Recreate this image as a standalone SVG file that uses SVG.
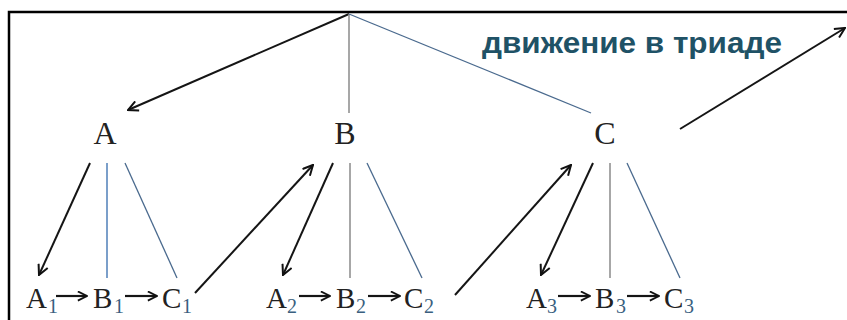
<svg xmlns="http://www.w3.org/2000/svg" width="847" height="320" viewBox="0 0 847 320">
<defs>
<marker id="ah" viewBox="0 0 12 12" refX="11" refY="6" markerWidth="12" markerHeight="12" markerUnits="userSpaceOnUse" orient="auto">
<path d="M1,1 L11,6 L1,11" fill="none" stroke="#111" stroke-width="2"/>
</marker>
<marker id="ahs" viewBox="0 0 12 12" refX="11" refY="6" markerWidth="11" markerHeight="11" markerUnits="userSpaceOnUse" orient="auto">
<path d="M1,1 L11,6 L1,11" fill="none" stroke="#111" stroke-width="2"/>
</marker>
</defs>
<style>
.arr{stroke:#151515;stroke-width:2;fill:none;marker-end:url(#ah)}
.sarr{stroke:#151515;stroke-width:2.2;fill:none;marker-end:url(#ahs)}
.gray{stroke:#8a8a8a;stroke-width:1.5;fill:none}
.blue{stroke:#4a6a8e;stroke-width:1.3;fill:none}
.lblue{stroke:#4f7fb8;stroke-width:1.5;fill:none}
.big{font-family:"Liberation Serif",serif;font-size:32px;fill:#222}
.lab{font-family:"Liberation Serif",serif;font-size:29px;fill:#222}
.sub{font-family:"Liberation Serif",serif;font-size:20px;fill:#3a5f80}
.title{font-family:"Liberation Sans",Arial,sans-serif;font-weight:bold;font-size:29px;fill:#1f5266}
</style>
<rect width="847" height="320" fill="#fff"/>
<path d="M9,320 V12 H847" fill="none" stroke="#000" stroke-width="2.5"/>
<g id="connectors">
<line class="arr" x1="349" y1="14" x2="128" y2="110"/>
<line class="gray" x1="349" y1="14" x2="349" y2="113"/>
<line class="blue" x1="349" y1="14" x2="591" y2="113"/>
<line class="arr" x1="680" y1="129" x2="845" y2="28"/>
<line class="arr" x1="90" y1="163" x2="39" y2="275"/>
<line class="lblue" x1="107" y1="163" x2="107" y2="278"/>
<line class="blue" x1="125" y1="163" x2="177" y2="278"/>
<line class="arr" x1="195" y1="293" x2="313" y2="165"/>
<line class="arr" x1="333" y1="163" x2="283" y2="275"/>
<line class="gray" x1="350" y1="163" x2="350" y2="278"/>
<line class="blue" x1="367" y1="163" x2="422" y2="278"/>
<line class="arr" x1="455" y1="295" x2="571" y2="165"/>
<line class="arr" x1="593" y1="163" x2="541" y2="275"/>
<line class="gray" x1="610" y1="163" x2="610" y2="278"/>
<line class="blue" x1="627" y1="163" x2="680" y2="278"/>
<line class="sarr" x1="56" y1="296" x2="87" y2="296"/>
<line class="sarr" x1="125" y1="296" x2="157" y2="296"/>
<line class="sarr" x1="299" y1="296" x2="330" y2="296"/>
<line class="sarr" x1="368" y1="296" x2="400" y2="296"/>
<line class="sarr" x1="558" y1="296" x2="590" y2="296"/>
<line class="sarr" x1="627" y1="296" x2="659" y2="296"/>
</g>
<g id="title"><text class="title" x="482" y="53" textLength="300" lengthAdjust="spacingAndGlyphs">движение в триаде</text></g>
<g id="A"><text class="big" x="105" y="144" text-anchor="middle">A</text></g>
<g id="B"><text class="big" x="345" y="144" text-anchor="middle">B</text></g>
<g id="C"><text class="big" x="605" y="144" text-anchor="middle">C</text></g>
<g id="A1"><text class="lab" x="26" y="308">A</text><text class="sub" x="48" y="313">1</text></g>
<g id="B1"><text class="lab" x="93" y="308">B</text><text class="sub" x="114" y="313">1</text></g>
<g id="C1"><text class="lab" x="162" y="308">C</text><text class="sub" x="182" y="313">1</text></g>
<g id="A2"><text class="lab" x="266" y="308">A</text><text class="sub" x="287" y="313">2</text></g>
<g id="B2"><text class="lab" x="336" y="308">B</text><text class="sub" x="356" y="313">2</text></g>
<g id="C2"><text class="lab" x="404" y="308">C</text><text class="sub" x="424" y="313">2</text></g>
<g id="A3"><text class="lab" x="526" y="308">A</text><text class="sub" x="547" y="313">3</text></g>
<g id="B3"><text class="lab" x="595" y="308">B</text><text class="sub" x="616" y="313">3</text></g>
<g id="C3"><text class="lab" x="664" y="308">C</text><text class="sub" x="684" y="313">3</text></g>
</svg>
